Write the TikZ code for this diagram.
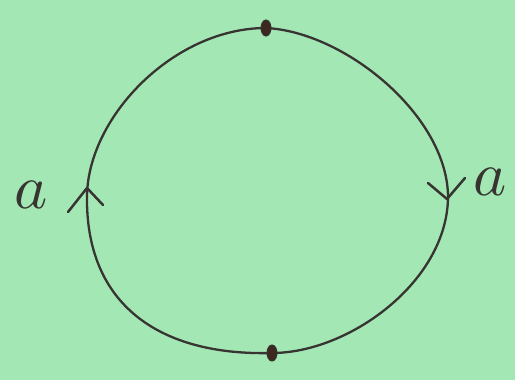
\documentclass[tikz,border=0pt]{standalone}
\usepackage{graphicx}
\usetikzlibrary{calc,shapes.geometric}
\definecolor{bg}{RGB}{163,232,180}
\definecolor{ink}{RGB}{55,52,50}
\definecolor{dotc}{RGB}{60,40,30}
\begin{document}
\begin{tikzpicture}[x=1pt,y=-1pt,
  loop/.style={draw=ink,line width=2.3pt,line cap=round,line join=round},
  tick/.style={draw=ink,line width=2.5pt,line cap=round,line join=round},
  blob/.style={fill=dotc,draw=ink,line width=1pt,ellipse,minimum width=10pt,minimum height=16pt,inner sep=0pt},
  lab/.style={text=ink,inner sep=0pt}]
\fill[bg] (0,0) rectangle (515,380);
\useasboundingbox (0,0) rectangle (515,380);
\coordinate (T) at (266,28);
\coordinate (R) at (448,195);
\coordinate (B) at (272,353);
\coordinate (L) at (87,195);
\draw[loop] (T) .. controls (345,32) and (446,115) .. (R)
  .. controls (449,280) and (350,353) .. (B)
  .. controls (160,356) and (85,305) .. (L)
  .. controls (89,115) and (175,28) .. (T) -- cycle;
\node[blob] (dt) at (T) {};
\node[blob] (db) at (B) {};
\draw[tick] (68,212) -- (87,188) -- (103,205);
\draw[tick] (428,183) -- (447,199) -- (465,178);
\node[lab] (la) at (31,195) {\scalebox{6.3}{$a$}};
\node[lab] (ra) at (490,182) {\scalebox{6.3}{$a$}};
\end{tikzpicture}
\end{document}
